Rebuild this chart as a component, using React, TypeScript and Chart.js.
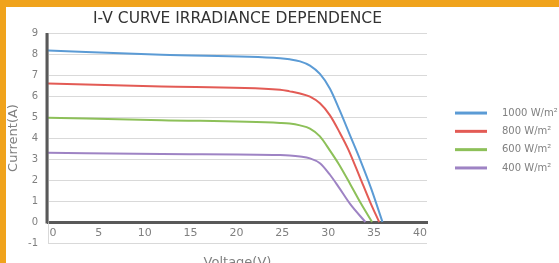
import React, { useEffect, useRef } from "react";
import { Chart, registerables } from "chart.js";

Chart.register(...registerables);

const seriesLabels = ["1000 W/m²", "800 W/m²", "600 W/m²", "400 W/m²"];
const seriesColors = ["#5B9BD5", "#E35B55", "#8DC059", "#9E83C4"];

const v1000 = [0, 12, 24.5, 25.5, 26.6, 27.65, 28.7, 29.76, 30.8, 31.9, 33.0, 34.1, 35.3];
const i1000 = [8.17, 7.96, 7.8, 7.75, 7.65, 7.45, 7.05, 6.35, 5.3, 4.1, 2.9, 1.6, 0];
const v800 = [0, 12, 24.5, 25.5, 26.6, 27.65, 28.7, 29.76, 30.8, 31.7, 32.9, 34.0, 34.95];
const i800 = [6.6, 6.45, 6.3, 6.22, 6.12, 5.97, 5.65, 5.08, 4.25, 3.45, 2.15, 0.95, 0];
const v600 = [0, 12, 24.5, 25.5, 26.6, 27.65, 28.7, 29.76, 30.7, 31.9, 33.0, 34.2];
const i600 = [4.97, 4.85, 4.72, 4.69, 4.6, 4.45, 4.08, 3.4, 2.75, 1.8, 0.9, 0];
const v400 = [0, 12, 24.5, 25.5, 26.6, 27.65, 28.7, 29.76, 30.7, 31.9, 33.5];
const i400 = [3.3, 3.24, 3.19, 3.17, 3.12, 3.03, 2.8, 2.25, 1.65, 0.85, 0];

const xTickValues = [0, 5, 10, 15, 20, 25, 30, 35, 40];

const FONT = "'DejaVu Sans', sans-serif";

const sideLegend = {
  id: "sideLegend",
  afterDraw(chart: any) {
    const { ctx, chartArea } = chart;
    const gap = 18.3;
    const cy = (chartArea.top + chartArea.bottom) / 2 + 2.5;
    const x0 = chartArea.right + 28;
    ctx.save();
    chart.data.datasets.forEach((ds: any, i: number) => {
      const y = cy + (i - 1.5) * gap;
      ctx.strokeStyle = ds.borderColor;
      ctx.lineWidth = 3;
      ctx.beginPath();
      ctx.moveTo(x0, y);
      ctx.lineTo(x0 + 32, y);
      ctx.stroke();
      ctx.fillStyle = "#808080";
      ctx.font = `10px ${FONT}`;
      ctx.textBaseline = "middle";
      ctx.textAlign = "left";
      ctx.fillText(ds.label, x0 + 47, y);
    });
    ctx.restore();
  },
};

const thickYAxis = {
  id: "thickYAxis",
  afterDatasetsDraw(chart: any) {
    const { ctx } = chart;
    const xs = chart.scales.x;
    const ys = chart.scales.y;
    const x = xs.getPixelForValue(0) - 1;
    ctx.save();
    ctx.strokeStyle = "#595959";
    ctx.lineWidth = 3;
    ctx.beginPath();
    ctx.moveTo(x, ys.getPixelForValue(9));
    ctx.lineTo(x, ys.getPixelForValue(0) + 1.5);
    ctx.stroke();
    ctx.restore();
  },
};

export default function App() {
  const ref = useRef<HTMLCanvasElement>(null);

  useEffect(() => {
    if (!ref.current) return;
    const vs = [v1000, v800, v600, v400];
    const is = [i1000, i800, i600, i400];
    const datasets = vs.map((v, k) => ({
      label: seriesLabels[k],
      data: v.map((x, j) => ({ x, y: is[k][j] })),
      borderColor: seriesColors[k],
      backgroundColor: seriesColors[k],
      borderWidth: 2,
      pointRadius: 0,
      cubicInterpolationMode: "monotone" as const,
      xAxisID: "x",
      yAxisID: "y",
    }));
    const chart = new Chart(ref.current, {
      type: "line",
      data: { datasets },
      options: {
        animation: false,
        responsive: false,
        layout: { padding: { left: 0, right: 179, top: 0, bottom: 20 } },
        plugins: {
          legend: { display: false },
          tooltip: { enabled: false },
          title: {
            display: true,
            text: "I-V CURVE IRRADIANCE DEPENDENCE",
            fullSize: false,
            color: "#333333",
            font: { family: FONT, size: 15.5, weight: "normal" },
            padding: { top: 2.7, bottom: 4.7 },
          },
        },
        scales: {
          x: { type: "linear", min: 0, max: 40, display: false },
          xl: {
            type: "linear",
            axis: "x",
            position: { y: 0 },
            min: -0.545,
            max: 40.765,
            grid: { display: false, drawTicks: false },
            border: { color: "#595959", width: 3 },
            afterBuildTicks: (s: any) => {
              s.ticks = xTickValues.map((v) => ({ value: v }));
            },
            ticks: {
              color: "#808080",
              font: { family: FONT, size: 11 },
              padding: 5,
              maxRotation: 0,
              autoSkip: false,
            },
            title: {
              display: true,
              text: "Voltage(V)",
              color: "#808080",
              font: { family: FONT, size: 13 },
              padding: { top: 10, bottom: 0 },
            },
          } as any,
          y: {
            type: "linear",
            min: -1,
            max: 9,
            afterFit: (s: any) => {
              s.width = 42;
            },
            ticks: {
              stepSize: 1,
              color: "#808080",
              font: { family: FONT, size: 10 },
              padding: 10,
            },
            grid: { color: "#d9d9d9", drawTicks: false },
            border: { color: "#d9d9d9", width: 1 },
            title: {
              display: true,
              text: "Current(A)",
              color: "#808080",
              font: { family: FONT, size: 13 },
              padding: { top: 0, bottom: 0 },
            },
          },
        },
      },
      plugins: [thickYAxis, sideLegend],
    });
    return () => chart.destroy();
  }, []);

  return (
    <div style={{ position: "fixed", inset: 0, background: "#F0A31C", overflow: "hidden" }}>
      <div
        style={{
          position: "absolute",
          left: 6,
          top: 7,
          right: 0,
          bottom: 0,
          background: "#ffffff",
          overflow: "hidden",
        }}
      >
        <canvas ref={ref} width={600} height={256} style={{ display: "block", width: 600, height: 256 }} />
      </div>
    </div>
  );
}
